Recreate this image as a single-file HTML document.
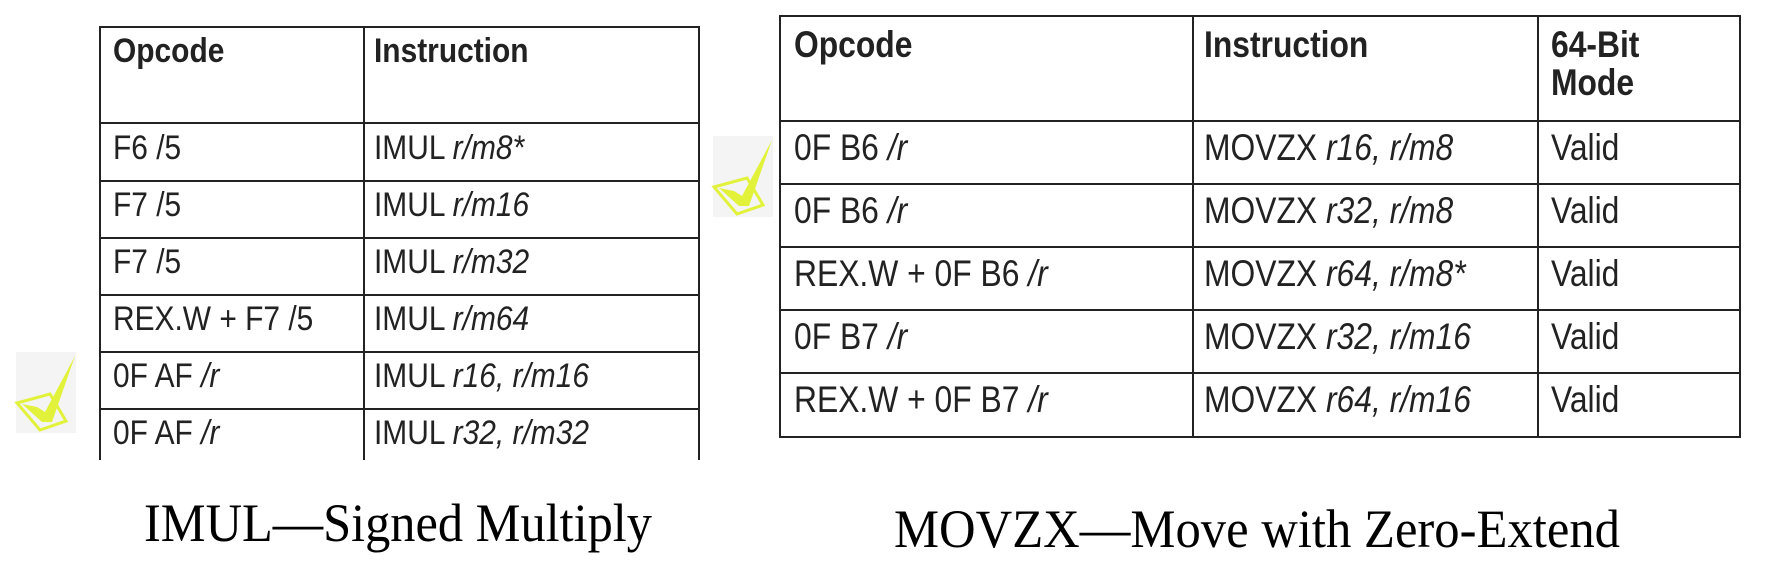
<!DOCTYPE html>
<html><head><meta charset="utf-8"><style>
html,body{margin:0;padding:0;background:#fff;}
svg{display:block;}
.t{font-family:"Liberation Sans",sans-serif;fill:#222;}
.b{font-weight:bold;}
.cap{font-family:"Liberation Serif",serif;fill:#000;}
</style></head><body>
<svg width="1768" height="580" viewBox="0 0 1768 580" xmlns="http://www.w3.org/2000/svg">
<defs>
<g id="chk">
<rect x="0" y="0" width="60" height="81" fill="#f4f4f5"/>
<polygon points="1,51 34,42 50,69 24,78" fill="none" stroke="#e2f23a" stroke-width="3"/>
<polygon points="59,4 36,70 26,70 6,52 21,55 29,60" fill="#e2f23a"/>
</g>
</defs>
<!-- Left table -->
<g stroke="#222" stroke-width="2" fill="none">
<line x1="99" y1="27" x2="700" y2="27"/>
<line x1="100" y1="27" x2="100" y2="460"/>
<line x1="364" y1="27" x2="364" y2="460"/>
<line x1="699" y1="27" x2="699" y2="460"/>
<line x1="100" y1="123" x2="700" y2="123"/>
<line x1="100" y1="181" x2="700" y2="181"/>
<line x1="100" y1="238" x2="700" y2="238"/>
<line x1="100" y1="295" x2="700" y2="295"/>
<line x1="100" y1="352" x2="700" y2="352"/>
<line x1="100" y1="409" x2="700" y2="409"/>
</g>
<g class="t" font-size="34" transform="translate(113,0) scale(0.88,1)">
<text x="0" y="62" class="b">Opcode</text>
<text x="0" y="159">F6 /5</text>
<text x="0" y="216">F7 /5</text>
<text x="0" y="273">F7 /5</text>
<text x="0" y="330">REX.W + F7 /5</text>
<text x="0" y="387">0F AF <tspan font-style="italic">/r</tspan></text>
<text x="0" y="444">0F AF <tspan font-style="italic">/r</tspan></text>
</g>
<g class="t" font-size="34" transform="translate(374,0) scale(0.88,1)">
<text x="0" y="62" class="b">Instruction</text>
<text x="0" y="159">IMUL <tspan font-style="italic">r/m8*</tspan></text>
<text x="0" y="216">IMUL <tspan font-style="italic">r/m16</tspan></text>
<text x="0" y="273">IMUL <tspan font-style="italic">r/m32</tspan></text>
<text x="0" y="330">IMUL <tspan font-style="italic">r/m64</tspan></text>
<text x="0" y="387">IMUL <tspan font-style="italic">r16, r/m16</tspan></text>
<text x="0" y="444">IMUL <tspan font-style="italic">r32, r/m32</tspan></text>
</g>
<!-- Right table -->
<g stroke="#222" stroke-width="2" fill="none">
<rect x="780" y="16" width="960" height="421"/>
<line x1="1193" y1="16" x2="1193" y2="437"/>
<line x1="1538" y1="16" x2="1538" y2="437"/>
<line x1="780" y1="121" x2="1740" y2="121"/>
<line x1="780" y1="184" x2="1740" y2="184"/>
<line x1="780" y1="247" x2="1740" y2="247"/>
<line x1="780" y1="310" x2="1740" y2="310"/>
<line x1="780" y1="373" x2="1740" y2="373"/>
</g>
<g class="t" font-size="37" transform="translate(794,0) scale(0.86,1)">
<text x="0" y="57" class="b">Opcode</text>
<text x="0" y="160">0F B6 <tspan font-style="italic">/r</tspan></text>
<text x="0" y="223">0F B6 <tspan font-style="italic">/r</tspan></text>
<text x="0" y="286">REX.W + 0F B6 <tspan font-style="italic">/r</tspan></text>
<text x="0" y="349">0F B7 <tspan font-style="italic">/r</tspan></text>
<text x="0" y="412">REX.W + 0F B7 <tspan font-style="italic">/r</tspan></text>
</g>
<g class="t" font-size="37" transform="translate(1204,0) scale(0.86,1)">
<text x="0" y="57" class="b">Instruction</text>
<text x="0" y="160">MOVZX <tspan font-style="italic">r16, r/m8</tspan></text>
<text x="0" y="223">MOVZX <tspan font-style="italic">r32, r/m8</tspan></text>
<text x="0" y="286">MOVZX <tspan font-style="italic">r64, r/m8*</tspan></text>
<text x="0" y="349">MOVZX <tspan font-style="italic">r32, r/m16</tspan></text>
<text x="0" y="412">MOVZX <tspan font-style="italic">r64, r/m16</tspan></text>
</g>
<g class="t" font-size="37" transform="translate(1551,0) scale(0.86,1)">
<text x="0" y="57" class="b">64-Bit</text>
<text x="0" y="95" class="b">Mode</text>
<text x="0" y="160">Valid</text>
<text x="0" y="223">Valid</text>
<text x="0" y="286">Valid</text>
<text x="0" y="349">Valid</text>
<text x="0" y="412">Valid</text>
</g>
<!-- checks -->
<use href="#chk" x="16" y="352"/>
<use href="#chk" x="713" y="136"/>
<!-- captions -->
<text class="cap" x="144" y="541" font-size="54" textLength="508" lengthAdjust="spacingAndGlyphs">IMUL—Signed Multiply</text>
<text class="cap" x="894" y="547" font-size="54" textLength="726" lengthAdjust="spacingAndGlyphs">MOVZX—Move with Zero-Extend</text>
</svg>
</body></html>
